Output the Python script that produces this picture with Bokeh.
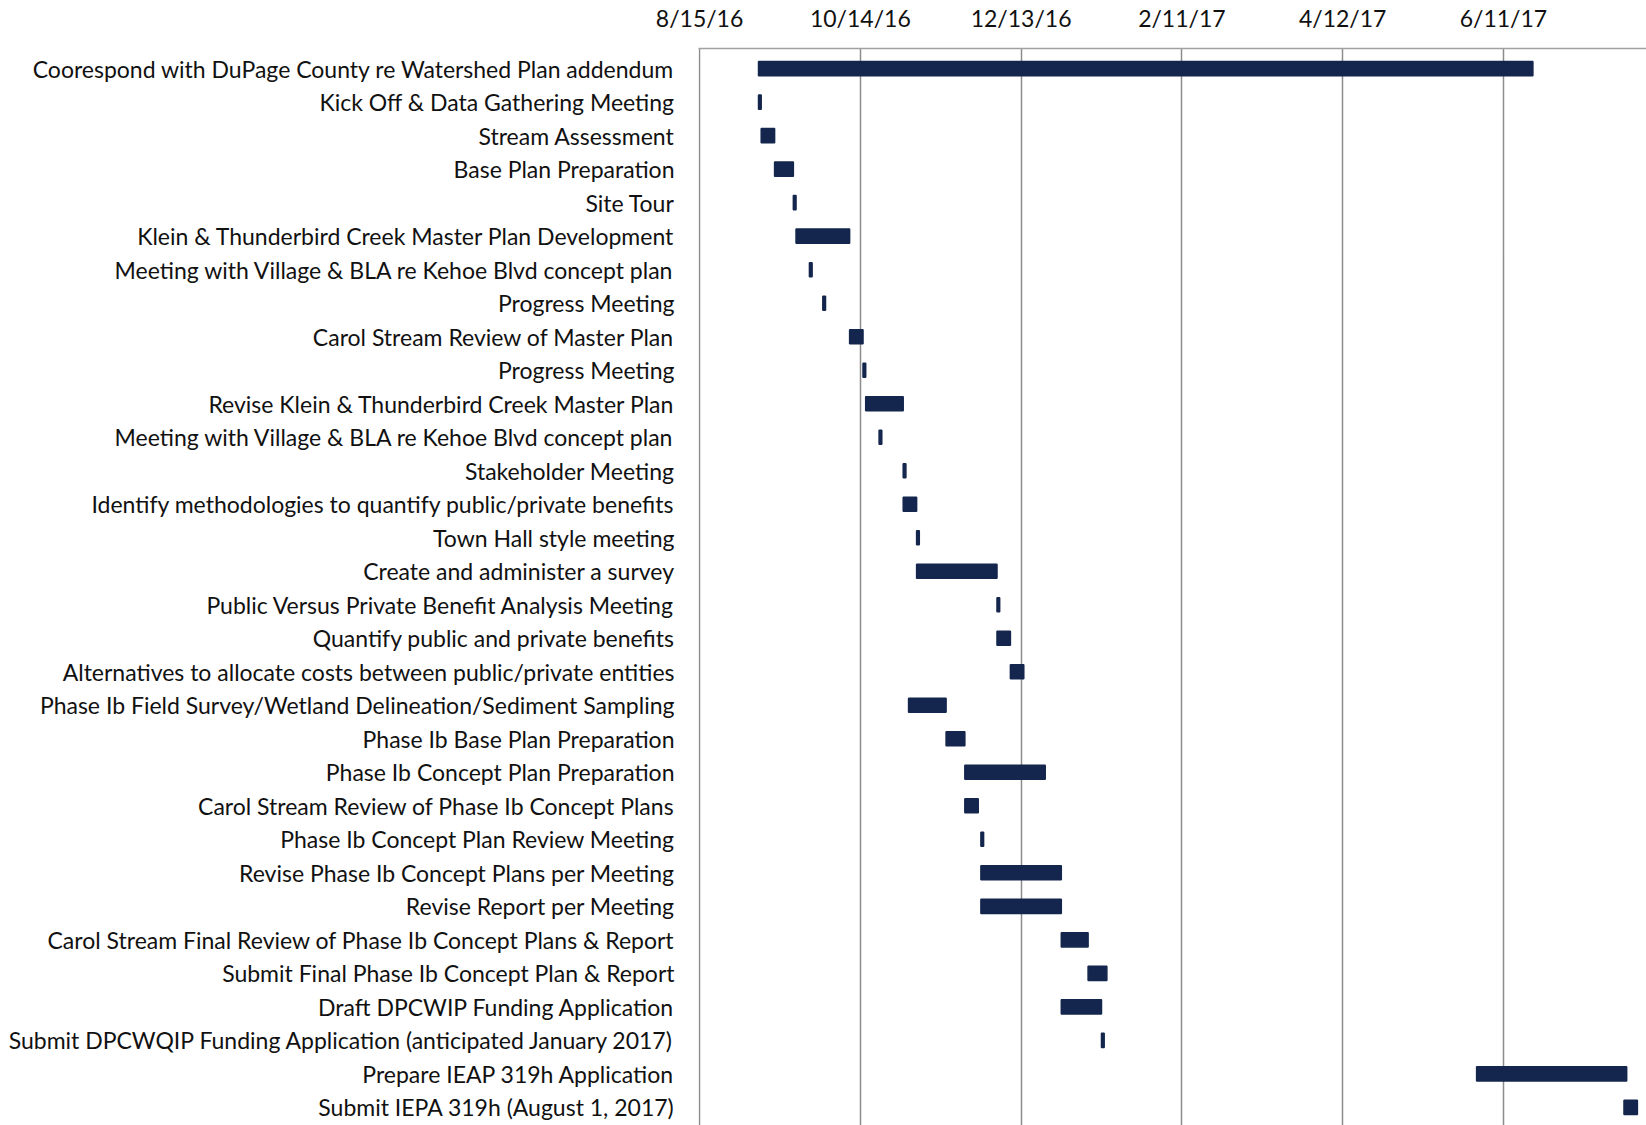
import pandas as pd
from bokeh.plotting import figure
from bokeh.models import Range1d, FixedTicker, ColumnDataSource
from bokeh.embed import file_html
from bokeh.resources import INLINE

tasks = [
    "Coorespond with DuPage County re Watershed Plan addendum",
    "Kick Off & Data Gathering Meeting",
    "Stream Assessment",
    "Base Plan Preparation",
    "Site Tour",
    "Klein & Thunderbird Creek Master Plan Development",
    "Meeting with Village & BLA re Kehoe Blvd concept plan",
    "Progress Meeting",
    "Carol Stream Review of Master Plan",
    "Progress Meeting",
    "Revise Klein & Thunderbird Creek Master Plan",
    "Meeting with Village & BLA re Kehoe Blvd concept plan",
    "Stakeholder Meeting",
    "Identify methodologies to quantify public/private benefits",
    "Town Hall style meeting",
    "Create and administer a survey",
    "Public Versus Private Benefit Analysis Meeting",
    "Quantify public and private benefits",
    "Alternatives to allocate costs between public/private entities",
    "Phase Ib Field Survey/Wetland Delineation/Sediment Sampling",
    "Phase Ib Base Plan Preparation",
    "Phase Ib Concept Plan Preparation",
    "Carol Stream Review of Phase Ib Concept Plans",
    "Phase Ib Concept Plan Review Meeting",
    "Revise Phase Ib Concept Plans per Meeting",
    "Revise Report per Meeting",
    "Carol Stream Final Review of Phase Ib Concept Plans & Report",
    "Submit Final Phase Ib Concept Plan & Report",
    "Draft DPCWIP Funding Application",
    "Submit DPCWQIP Funding Application (anticipated January 2017)",
    "Prepare IEAP 319h Application",
    "Submit IEPA 319h (August 1, 2017)",
]

start_dates = [
    "2016-09-06", "2016-09-06", "2016-09-07", "2016-09-12", "2016-09-19",
    "2016-09-20", "2016-09-25", "2016-09-30", "2016-10-10", "2016-10-15",
    "2016-10-16", "2016-10-21", "2016-10-30", "2016-10-30", "2016-11-04",
    "2016-11-04", "2016-12-04", "2016-12-04", "2016-12-09", "2016-11-01",
    "2016-11-15", "2016-11-22", "2016-11-22", "2016-11-28", "2016-11-28",
    "2016-11-28", "2016-12-28", "2017-01-07", "2016-12-28", "2017-01-12",
    "2017-06-01", "2017-07-26",
]

end_dates = [
    "2017-06-22", "2016-09-07", "2016-09-12", "2016-09-19", "2016-09-20",
    "2016-10-10", "2016-09-26", "2016-10-01", "2016-10-15", "2016-10-16",
    "2016-10-30", "2016-10-22", "2016-10-31", "2016-11-04", "2016-11-05",
    "2016-12-04", "2016-12-05", "2016-12-09", "2016-12-14", "2016-11-15",
    "2016-11-22", "2016-12-22", "2016-11-27", "2016-11-29", "2016-12-28",
    "2016-12-28", "2017-01-07", "2017-01-14", "2017-01-12", "2017-01-13",
    "2017-07-27", "2017-07-31",
]

tick_dates = ["2016-08-15", "2016-10-14", "2016-12-13", "2017-02-11", "2017-04-12", "2017-06-11"]
tick_labels = ["8/15/16", "10/14/16", "12/13/16", "2/11/17", "4/12/17", "6/11/17"]

origin = pd.Timestamp(tick_dates[0])


def day(s):
    return int((pd.Timestamp(s) - origin).days)


rows = list(range(len(tasks)))
src = ColumnDataSource(dict(
    y=rows,
    left=[day(s) for s in start_dates],
    right=[day(e) for e in end_dates],
))

tick_pos = [day(t) for t in tick_dates]

BAR = "#14264d"
GRID = "#8c8c8c"
FONT = "Lato"
TXT = "#111111"

p = figure(
    width=1646, height=1125, output_backend="svg", toolbar_location=None,
    x_axis_location="above",
    x_range=Range1d(-0.4, 353.4), y_range=Range1d(31.54, -0.6),
    min_border_left=698, min_border_top=47, min_border_right=0, min_border_bottom=0,
)
p.outline_line_color = None
p.background_fill_color = "white"
p.border_fill_color = "white"

p.hbar(y="y", left="left", right="right", height=0.42, source=src,
       fill_color=BAR, line_color=BAR, line_width=1.5)

xa = p.xaxis[0]
xa.ticker = FixedTicker(ticks=tick_pos)
xa.major_label_overrides = {pos: lbl for pos, lbl in zip(tick_pos, tick_labels)}
xa.major_tick_out = 0
xa.major_tick_in = 0
xa.minor_tick_out = 0
xa.minor_tick_in = 0
xa.axis_line_color = "#a0a0a0"
xa.axis_line_width = 1.5
xa.major_label_text_font = FONT
xa.major_label_text_font_size = "23px"
xa.major_label_text_color = TXT
xa.major_label_standoff = 17

ya = p.yaxis[0]
ya.ticker = FixedTicker(ticks=rows)
ya.major_label_overrides = {i: t for i, t in zip(rows, tasks)}
ya.major_tick_out = 0
ya.major_tick_in = 0
ya.minor_tick_out = 0
ya.minor_tick_in = 0
ya.axis_line_color = None
ya.major_label_text_font = FONT
ya.major_label_text_font_size = "23px"
ya.major_label_text_color = TXT
ya.major_label_standoff = 24

p.xgrid.ticker = FixedTicker(ticks=tick_pos)
p.xgrid.grid_line_color = GRID
p.xgrid.grid_line_width = 1.5
p.ygrid.visible = False

open("out.html", "w").write(file_html(p, INLINE))
